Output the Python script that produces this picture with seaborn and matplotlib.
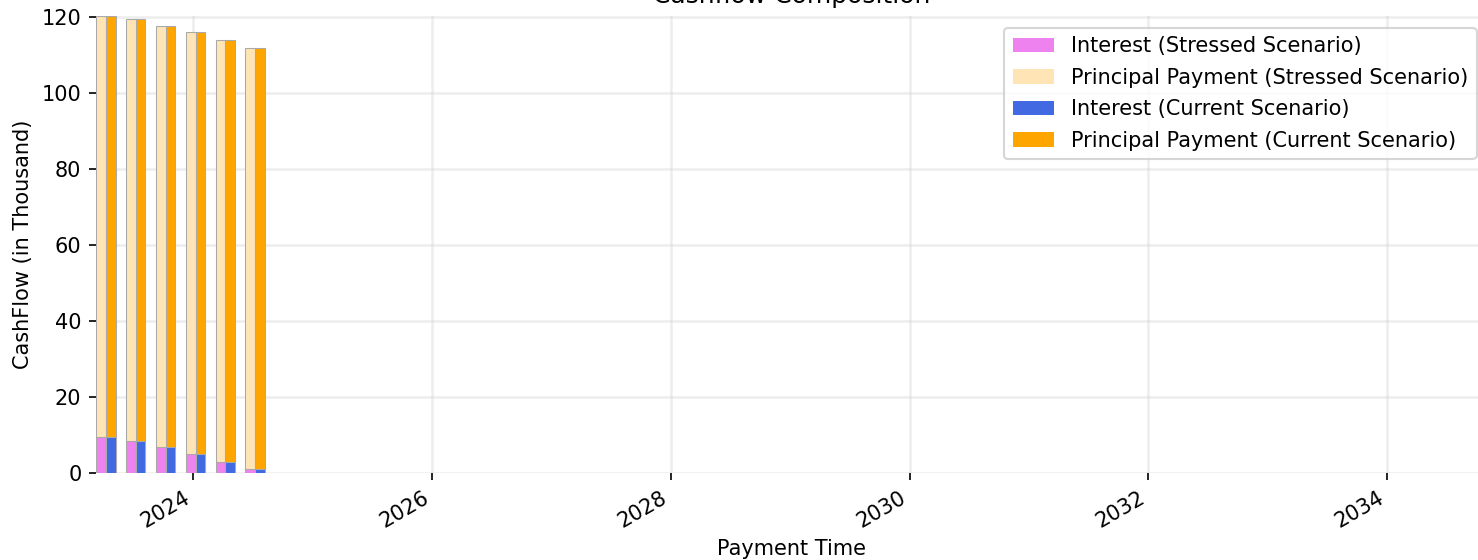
import matplotlib
matplotlib.use("Agg")
import matplotlib.pyplot as plt
import matplotlib.dates as mdates
import pandas as pd
import seaborn as sns
from matplotlib.patches import Patch

# ---- data (values in thousand) ----
payment_dates = ["2023-04-08", "2023-07-08", "2023-10-08", "2024-01-08", "2024-04-08", "2024-07-08"]
interest_stressed = [9.3, 8.4, 6.8, 4.9, 2.9, 1.0]
principal_stressed = [111.0, 111.0, 110.7, 111.0, 111.0, 110.9]
interest_current = [9.3, 8.4, 6.8, 4.9, 2.9, 1.0]
principal_current = [111.0, 111.0, 110.7, 111.0, 111.0, 110.9]
scenarios = ["Stressed", "Current"]
x_start = "2023-03-09"
x_end = "2034-11-03"

colors_principal = {"Stressed": "moccasin", "Current": "orange"}
colors_interest = {"Stressed": "violet", "Current": "royalblue"}

dates_num = mdates.date2num(pd.to_datetime(payment_dates))
rows = []
for scen, ints, prins in [("Stressed", interest_stressed, principal_stressed),
                          ("Current", interest_current, principal_current)]:
    for d, i, p in zip(dates_num, ints, prins):
        rows.append({"date": d, "scenario": scen, "interest": i, "total": i + p})
df = pd.DataFrame(rows)

DPI = 150
fig = plt.figure(figsize=(1478 / DPI, 560 / DPI), dpi=DPI)
ax = fig.add_axes([96 / 1478, 87.3 / 560, (1487 - 96) / 1478, (560 - 15.6 - 87.3) / 560])

spacing = min(pd.Series(sorted(dates_num)).diff().dropna())
bar_w = 60.0 / spacing

common = dict(x="date", hue="scenario", hue_order=scenarios, native_scale=True,
              width=bar_w, dodge=True, saturation=1, errorbar=None,
              edgecolor="darkgray", linewidth=0.5, legend=False, ax=ax)
sns.barplot(data=df, y="total", palette=colors_principal, **common)
sns.barplot(data=df, y="interest", palette=colors_interest, **common)

ax.set_xlim(mdates.date2num(pd.Timestamp(x_start)), mdates.date2num(pd.Timestamp(x_end)))
ax.set_ylim(0, df["total"].max())
ax.xaxis.set_major_locator(mdates.YearLocator(2))
ax.xaxis.set_major_formatter(mdates.DateFormatter("%Y"))
for lab in ax.get_xticklabels():
    lab.set_rotation(30)
    lab.set_ha("right")

ax.set_axisbelow(True)
ax.grid(True, color="lightgray", alpha=0.4, linewidth=1.2)
sns.despine(ax=ax, left=True, bottom=True)

ax.set_xlabel("Payment Time")
ax.set_ylabel("CashFlow (in Thousand)")
ax.set_title("Cashflow Composition")

handles = [
    Patch(facecolor=colors_interest["Stressed"], label="Interest (Stressed Scenario)"),
    Patch(facecolor=colors_principal["Stressed"], label="Principal Payment (Stressed Scenario)"),
    Patch(facecolor=colors_interest["Current"], label="Interest (Current Scenario)"),
    Patch(facecolor=colors_principal["Current"], label="Principal Payment (Current Scenario)"),
]
ax.legend(handles=handles, loc="upper right", labelspacing=0.55,
          bbox_to_anchor=(1.0, 0.996))

fig.savefig("out.png", dpi=DPI)
